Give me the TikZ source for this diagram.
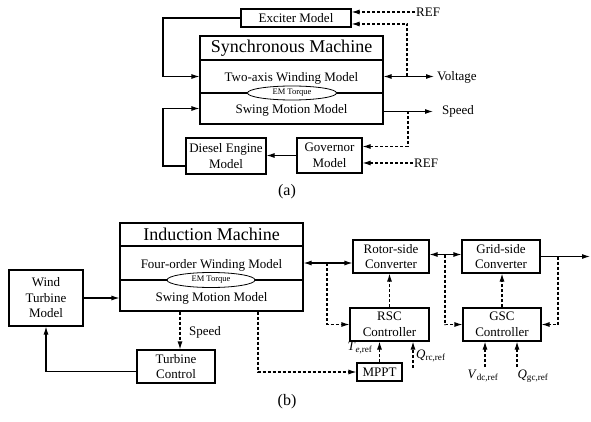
\documentclass[tikz,border=0pt]{standalone}
\usepackage{fontspec}
\setmainfont{Liberation Serif}
\usetikzlibrary{shapes.geometric,arrows.meta,positioning}

\begin{document}
\begin{tikzpicture}[
  x=1pt, y=-1pt,
  box/.style={rectangle, draw, line width=1.1pt, align=center, inner sep=1pt, font=\fontsize{13}{15.5}\selectfont},
  head/.style={box, minimum width=183pt, font=\fontsize{18}{20}\selectfont},
  sect/.style={box, minimum width=183pt, text height=14pt, text depth=3pt},
  torque/.style={ellipse, draw, line width=0.8pt, fill=white, inner sep=0pt, font=\fontsize{8.5}{10}\selectfont},
  lbl/.style={inner sep=1pt, font=\fontsize{13}{15.5}\selectfont},
  sublbl/.style={inner sep=1pt, font=\fontsize{16}{18}\selectfont},
  arr/.style={-{Latex[length=8pt,width=5pt]}, line width=1.1pt},
  darr/.style={arr, dash pattern=on 3pt off 2pt},
  both/.style={{Latex[length=8pt,width=5pt]}-{Latex[length=8pt,width=5pt]}, line width=1.1pt}
]
\useasboundingbox (0,0) rectangle (591,422);
\node[box, minimum width=110pt, minimum height=18pt] (exc) at (296,18) {Exciter Model};
\node[head, minimum height=24pt] (smt) at (291.5,48) {Synchronous Machine};
\node[sect, minimum height=33pt] (smw) at (291.5,76.5) {Two-axis Winding Model};
\node[sect, minimum height=31pt] (sms) at (291.5,108.5) {Swing Motion Model};
\node[torque, minimum width=89pt, minimum height=14pt] (emt) at (292,93) {EM Torque};
\node[box, minimum width=80pt, minimum height=36pt] (die) at (226,156) {Diesel Engine\\Model};
\node[box, minimum width=65pt, minimum height=35pt] (gov) at (329.5,155.5) {Governor\\Model};
\node[lbl, anchor=west] (reft) at (415,12) {REF};
\node[lbl, anchor=west] (volt) at (436,77) {Voltage};
\node[lbl, anchor=west] (spd) at (441,111.5) {Speed};
\node[lbl, anchor=west] (refb) at (413,163) {REF};
\node[sublbl] (capa) at (287,192) {(a)};
\coordinate (xl) at (163,0);
\coordinate (vtap) at (407,76.5);
\coordinate (stap) at (408,111.5);
\draw[darr] (reft.west) -- (reft.west -| exc.east);
\draw[both] (smw.east) -- ([xshift=-2pt]smw.east -| volt.west);
\draw[darr] (vtap) |- ([yshift=-6pt]exc.east);
\draw[arr] ([yshift=-3pt]sms.east) -- ([yshift=-3pt,xshift=-8pt]sms.east -| spd.west);
\draw[darr] (stap) |- ([yshift=9pt]gov.east);
\draw[darr] (refb.west) -- (refb.west -| gov.east);
\draw[arr] (gov.west) -- (gov.west -| die.east);
\draw[arr] (exc.west) -- (exc.west -| xl) |- (smw.west);
\draw[arr] ([yshift=-10pt]die.west) -- ([yshift=-10pt]die.west -| xl) |- (sms.west);

\node[head, minimum height=23pt] (imt) at (211.5,234.5) {Induction Machine};
\node[sect, minimum height=34pt] (imw) at (211.5,263) {Four-order Winding Model};
\node[sect, minimum height=31pt] (ims) at (211.5,295.5) {Swing Motion Model};
\node[torque, minimum width=88pt, minimum height=15pt] (emt2) at (211,280) {EM Torque};
\node[box, minimum width=74pt, minimum height=56pt] (wtm) at (46,298) {Wind\\Turbine\\Model};
\node[box, minimum width=78pt, minimum height=33pt] (tc) at (176,366.5) {Turbine\\Control};
\node[box, minimum width=45pt, minimum height=18pt] (mppt) at (379.5,372) {MPPT};
\node[box, minimum width=76pt, minimum height=33pt] (rsc) at (391,256.5) {Rotor-side\\Converter};
\node[box, minimum width=79pt, minimum height=33pt] (rscc) at (389.5,324.5) {RSC\\Controller};
\node[box, minimum width=78pt, minimum height=33pt] (gsc) at (501,256.5) {Grid-side\\Converter};
\node[box, minimum width=78pt, minimum height=33pt] (gscc) at (502,324.5) {GSC\\Controller};
\node[lbl, anchor=west] (spd2) at (188,332) {Speed};
\node[lbl] (te) at (360,348) {\textit{T}\textsubscript{\textit{e},ref}};
\node[lbl, anchor=west] (qrc) at (415,356) {\textit{Q}\textsubscript{rc,ref}};
\node[lbl] (vdc) at (483,376) {\textit{V}\textsubscript{dc,ref}};
\node[lbl] (qgc) at (533,376) {\textit{Q}\textsubscript{gc,ref}};
\node[sublbl] (capb) at (287,402) {(b)};
\coordinate (rtap) at (327,263);
\coordinate (gtap) at (445,254.5);
\coordinate (otap) at (558,256.5);
\coordinate (out) at (590,256.5);
\coordinate (qrcs) at (413,368);
\coordinate (vdcs) at (485,367);
\coordinate (qgcs) at (517,367);
\draw[arr] (wtm.east) -- (wtm.east -| ims.west);
\draw[darr] ([xshift=-31.5pt]ims.south) -- ([xshift=4pt]tc.north);
\draw[arr] ([yshift=-5pt]tc.west) -| (wtm.south);
\draw[darr] ([xshift=46.5pt]ims.south) |- (mppt.west);
\draw[both] (imw.east) -- (imw.east -| rsc.west);
\draw[darr] (rtap) |- (rscc.west);
\draw[darr] (rscc.north) -- (rscc.north |- rsc.south);
\draw[both] ([yshift=2pt]rsc.east) -- ([yshift=2pt]rsc.east -| gsc.west);
\draw[darr] (gtap) |- (gscc.west);
\draw[darr] (gscc.north) -- (gscc.north |- gsc.south);
\draw[arr] (gsc.east) -- (out);
\draw[darr] (otap) |- (gscc.east);
\draw[darr] (mppt.north) -- (mppt.north |- rscc.south);
\draw[darr] (qrcs) -- (qrcs |- rscc.south);
\draw[darr] (vdcs) -- (vdcs |- gscc.south);
\draw[darr] (qgcs) -- (qgcs |- gscc.south);
\end{tikzpicture}
\end{document}
